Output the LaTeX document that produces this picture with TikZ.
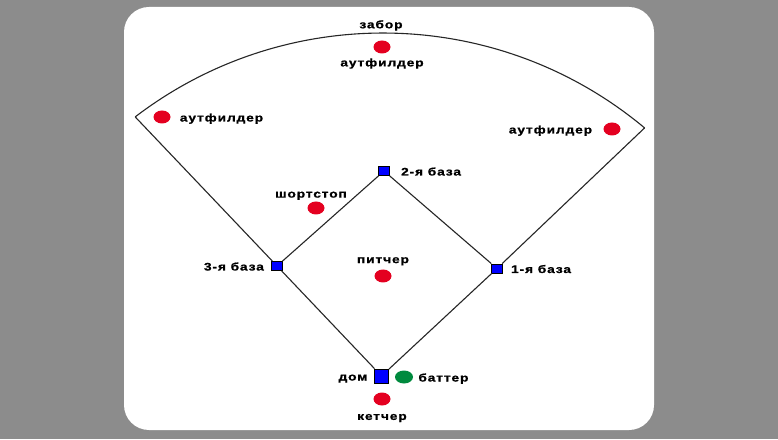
\documentclass[tikz,border=0pt]{standalone}
\usepackage{fontspec}
\setmainfont{Liberation Sans}[FakeStretch=1.25, LetterSpace=8, BoldFeatures={FakeBold=1}]
\usetikzlibrary{positioning, calc, shapes.geometric}
\definecolor{fieldgray}{RGB}{140,140,140}
\definecolor{fieldred}{RGB}{228,0,32}
\definecolor{fieldgreen}{RGB}{0,138,62}
\begin{document}
\begin{tikzpicture}[x=1pt, y=1pt,
	base/.style={draw=black, fill=blue, line width=.8pt, inner sep=0pt, minimum width=11pt, minimum height=9pt},
	player/.style={ellipse, fill=fieldred, inner sep=0pt, minimum width=17pt, minimum height=13pt},
	lbl/.style={font=\bfseries\fontsize{11}{13}\selectfont, inner sep=0pt, text height=6pt, text depth=0pt, yshift=-1.5pt},
	line/.style={draw=black!85, line width=1.1pt}]
	\fill[fieldgray] (0,0) rectangle (778,439);
	\useasboundingbox (0,0) rectangle (778,439);
	\fill[white, rounded corners=25pt] (124,9) rectangle (654,432);
	
	\node[base, minimum width=14pt, minimum height=14pt](home) at (381.5,63){};
	\node[base](first) at (497,170.5){};
	\node[base](second) at (384,268){};
	\node[base](third) at (277,173){};
	\coordinate (lf) at (135.2,322.1);
	\coordinate (rf) at (644.6,311.1);
	\coordinate (fence) at (381,406);
	
	\draw[line] (home) -- (first) -- (second) -- (third) -- (home);
	\draw[line] (third) -- (lf);
	\draw[line] (first) -- (rf);
	\draw[line] (lf) arc[start angle=127.4, end angle=50.1, radius=408pt];
	
	\node[player](of1) at (382,392){};
	\node[player](of2) at (162,322){};
	\node[player](of3) at (612,310){};
	\node[player](ss) at (316,231){};
	\node[player](pitcher) at (383,163){};
	\node[player](catcher) at (382,40){};
	\node[player, fill=fieldgreen, minimum width=18pt](batter) at (404,62){};
	
	\node[lbl, above=6pt of fence]{забор};
	\node[lbl, below=5pt of of1]{аутфилдер};
	\node[lbl, right=9pt of of2]{аутфилдер};
	\node[lbl, left=11pt of of3]{аутфилдер};
	\node[lbl, above=5pt of ss, xshift=-5pt]{шортстоп};
	\node[lbl, above=7.5pt of pitcher]{питчер};
	\node[lbl, below=6.5pt of catcher]{кетчер};
	\node[lbl, right=5pt of batter]{баттер};
	\node[lbl, left=6.5pt of home]{дом};
	\node[lbl, left=7pt of third]{3-я база};
	\node[lbl, right=11pt of second]{2-я база};
	\node[lbl, right=8pt of first]{1-я база};
\end{tikzpicture}
\end{document}
